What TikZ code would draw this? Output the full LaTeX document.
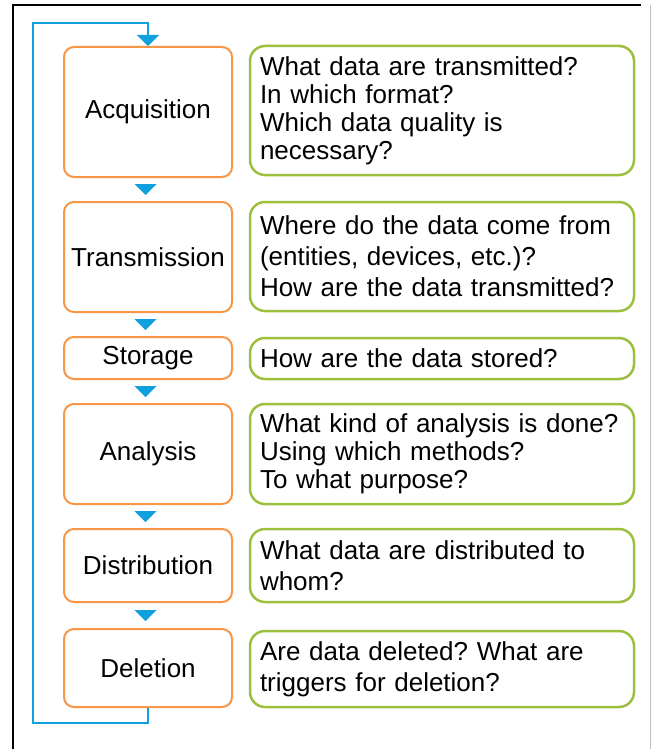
\documentclass[tikz,border=0pt]{standalone}
\usepackage{fontspec}
\setmainfont{Liberation Sans}
\usetikzlibrary{arrows.meta,calc}
\definecolor{boxorange}{RGB}{247,150,70}
\definecolor{boxgreen}{RGB}{155,192,62}
\definecolor{flowblue}{RGB}{16,160,224}
\frenchspacing
\newcommand\gaptri[2]{%
  \fill[flowblue] ($(#1.south)!0.5!(#2.north)+(-13.5,-5.5)$) -- ($(#1.south)!0.5!(#2.north)+(8.5,-5.5)$) -- ($(#1.south)!0.5!(#2.north)+(-2.5,5.5)$) -- cycle;}
\begin{document}
\begin{tikzpicture}[x=1pt,y=-1pt,
  stage/.style={draw=boxorange, line width=2pt, rounded corners=10pt, minimum width=168pt, inner sep=0pt, align=center, font=\fontsize{26}{28}\selectfont},
  question/.style={draw=boxgreen, line width=2.5pt, rounded corners=15pt, text width=364pt, inner xsep=10pt, inner ysep=0pt, align=left},
  tight/.style={font=\fontsize{26}{28}\selectfont},
  loose/.style={font=\fontsize{26}{31}\selectfont},
  loopline/.style={draw=flowblue, line width=2pt, -{Triangle[width=22pt,length=11pt]}},
  frame/.style={draw=black, line width=2pt},
  rframe/.style={draw=black!25, line width=1.5pt}]
\useasboundingbox (0,0) rectangle (652,749);
\fill[white] (0,0) rectangle (652,749);
% frame
\draw[frame] (13,749) -- (13,5) -- (641,5);
\draw[rframe] (650.5,5) -- (650.5,749);
% stages
\node[stage, minimum height=130pt] (acq) at (148,112) {Acquisition};
\node[stage, minimum height=110pt] (tra) at (148,257) {Transmission};
\node[stage, minimum height=42pt] (sto) at (148,358) {Storage};
\node[stage, minimum height=100pt] (ana) at (148,454) {Analysis};
\node[stage, minimum height=73pt] (dis) at (148,565.5) {Distribution};
\node[stage, minimum height=78pt] (del) at (148,668) {Deletion};
% questions
\node[question, tight, minimum height=129pt] (qacq) at (442,110.5) {What data are transmitted?\\In which format?\\Which data quality is\\necessary?};
\node[question, loose, minimum height=109pt] (qtra) at (442,256.5) {Where do the data come from\\(entities, devices, etc.)?\\How are the data transmitted?};
\node[question, tight, minimum height=41pt] (qsto) at (442,358.5) {How are the data stored?};
\node[question, tight, minimum height=100pt] (qana) at (442,454) {What kind of analysis is done?\\Using which methods?\\To what purpose?};
\node[question, loose, minimum height=73pt] (qdis) at (442,565.5) {What data are distributed to\\whom?};
\node[question, loose, minimum height=76pt] (qdel) at (442,669) {Are data deleted? What are\\triggers for deletion?};
% flow triangles
\gaptri{acq}{tra}
\gaptri{tra}{sto}
\gaptri{sto}{ana}
\gaptri{ana}{dis}
\gaptri{dis}{del}
% loop back
\coordinate (lb) at (33,723);
\coordinate (lt) at (33,23);
\draw[loopline] (del.south) |- (lb) -- (lt) -| (acq.north);
\end{tikzpicture}
\end{document}
